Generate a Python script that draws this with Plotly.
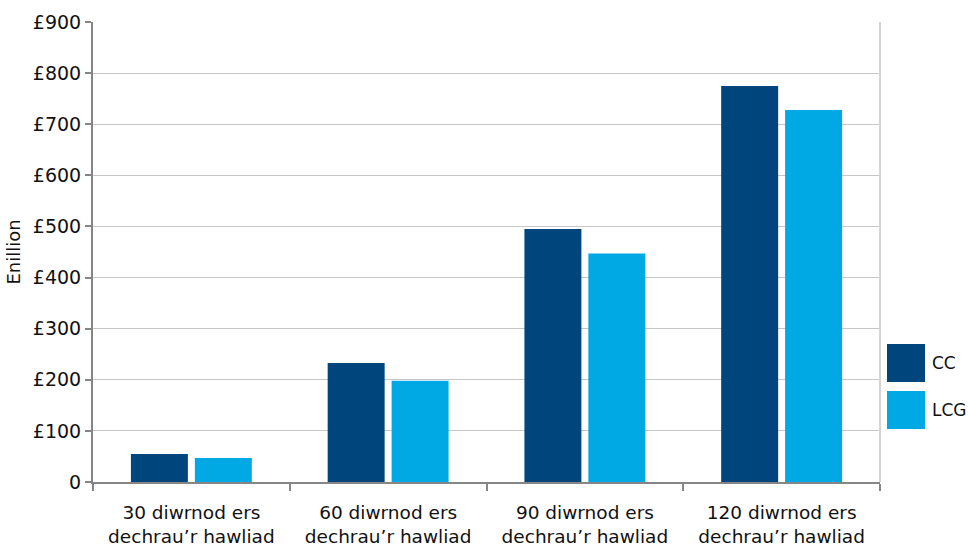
import plotly.graph_objects as go

categories = ["30 diwrnod ers<br>dechrau’r hawliad", "60 diwrnod ers<br>dechrau’r hawliad",
              "90 diwrnod ers<br>dechrau’r hawliad", "120 diwrnod ers<br>dechrau’r hawliad"]
cc_values = [55, 233, 495, 775]
lcg_values = [47, 198, 447, 728]
y_tickvals = [0, 100, 200, 300, 400, 500, 600, 700, 800, 900]
y_ticktext = ["0", "£100", "£200", "£300", "£400", "£500", "£600", "£700", "£800", "£900"]
series_names = ["CC", "LCG"]
series_colors = ["#00457c", "#00a9e4"]

fig = go.Figure()
fig.add_trace(go.Bar(x=categories, y=cc_values, name=series_names[0], marker_color=series_colors[0], marker_line_width=0))
fig.add_trace(go.Bar(x=categories, y=lcg_values, name=series_names[1], marker_color=series_colors[1], marker_line_width=0))

fig.update_layout(
    width=968, height=546,
    margin=dict(l=93, r=88, t=22, b=64),
    paper_bgcolor="white", plot_bgcolor="white",
    barmode="group", bargap=0.35, bargroupgap=0.109,
    showlegend=False,
    font=dict(family="DejaVu Sans", size=18, color="#111111"),
)
fig.update_xaxes(
    type="category", tickson="boundaries", ticks="outside", ticklen=7, tickcolor="#868686", tickwidth=2,
    showline=True, linecolor="#868686", linewidth=2, showgrid=False,
    tickfont=dict(family="DejaVu Sans", size=18.5, color="#111111"),
    ticklabelstandoff=13, automargin=False,
)
fig.update_yaxes(
    range=[0, 900], tickvals=y_tickvals, ticktext=y_ticktext,
    ticks="outside", ticklen=6, tickcolor="#868686", tickwidth=2,
    showline=True, linecolor="#868686", linewidth=2,
    showgrid=True, gridcolor="#c6c6c6", gridwidth=1, zeroline=False,
    tickfont=dict(family="DejaVu Sans", size=19, color="#111111"),
    automargin=False,
    title=dict(text="Enillion", font=dict(family="DejaVu Sans", size=18), standoff=8),
)
# right border of plot area
fig.add_shape(type="line", xref="paper", yref="paper", x0=1, x1=1, y0=0, y1=1,
              line=dict(color="#d4d4d4", width=2))
# custom legend with large swatches
legend_y = [(0.3, 0.2174), (0.1978, 0.1152)]
for name, color, (y1, y0) in zip(series_names, series_colors, legend_y):
    fig.add_shape(type="rect", xref="paper", yref="paper", x0=1.0089, x1=1.0572, y0=y0, y1=y1,
                  fillcolor=color, line_width=0)
    fig.add_annotation(xref="paper", yref="paper", x=1.0635, y=(y0 + y1) / 2, text=name,
                       showarrow=False, xanchor="left", yanchor="middle",
                       font=dict(family="DejaVu Sans", size=17, color="#111111"))

fig.write_html("out.html", config={"displayModeBar": False},
               post_script="document.body.style.margin='0';document.body.style.overflow='hidden';")
